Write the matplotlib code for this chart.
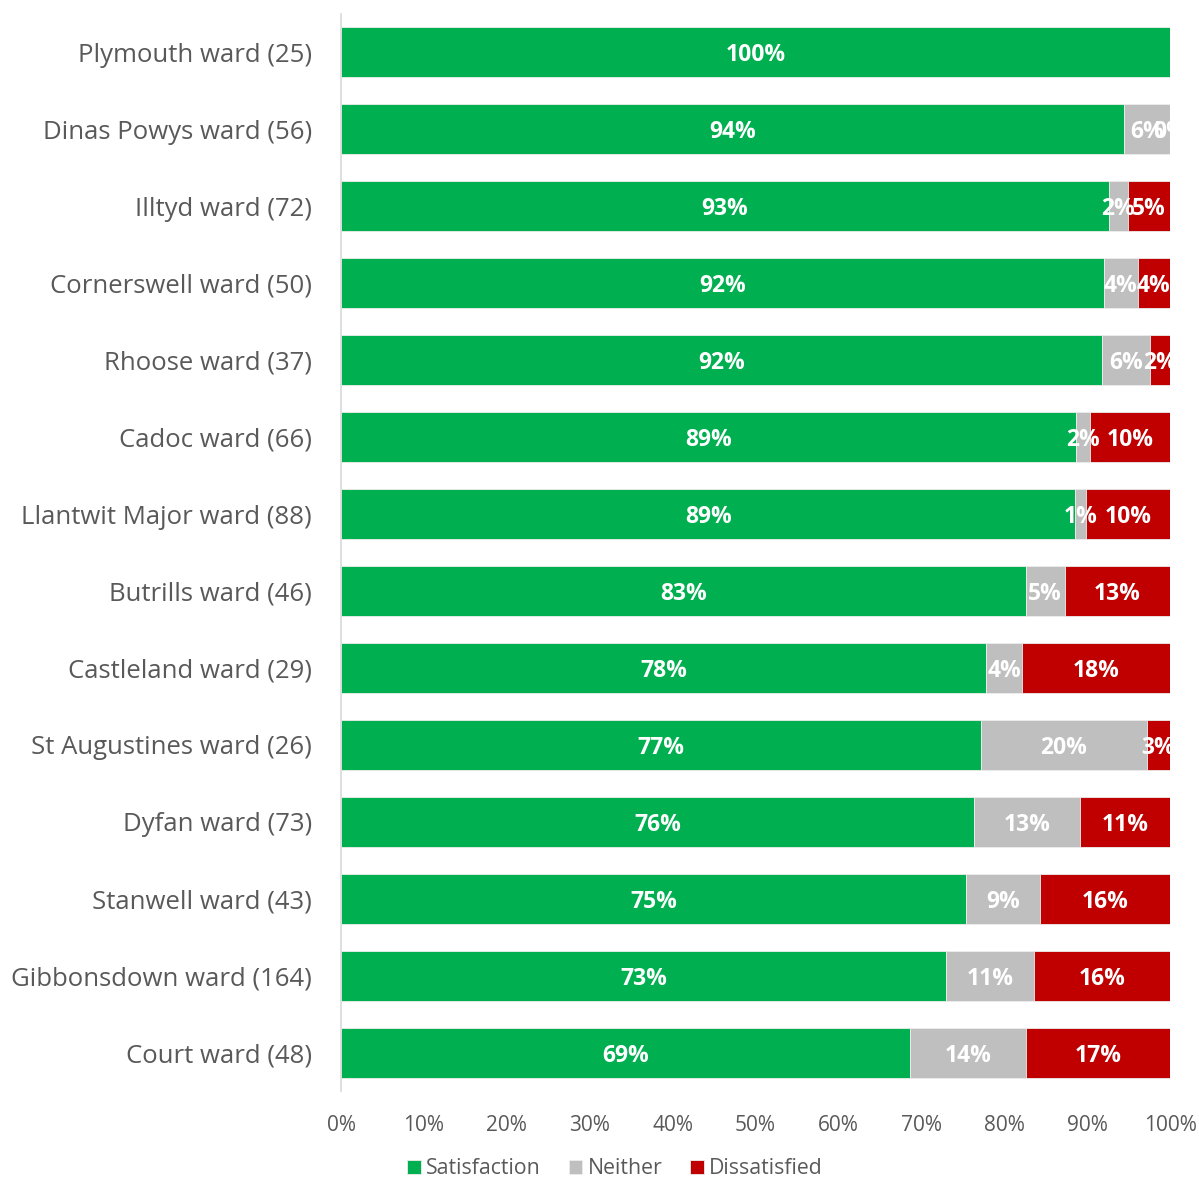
import matplotlib
matplotlib.use("Agg")
import matplotlib.pyplot as plt
import numpy as np

wards = [
    "Plymouth ward (25)", "Dinas Powys ward (56)", "Illtyd ward (72)",
    "Cornerswell ward (50)", "Rhoose ward (37)", "Cadoc ward (66)",
    "Llantwit Major ward (88)", "Butrills ward (46)", "Castleland ward (29)",
    "St Augustines ward (26)", "Dyfan ward (73)", "Stanwell ward (43)",
    "Gibbonsdown ward (164)", "Court ward (48)",
]
satisfaction = [100.0, 94.4, 92.6, 92.0, 91.8, 88.7, 88.6, 82.6, 77.8, 77.2, 76.4, 75.4, 73.0, 68.6]
neither = [0.0, 5.6, 2.3, 4.1, 5.8, 1.7, 1.3, 4.7, 4.4, 20.0, 12.7, 8.9, 10.6, 14.0]
dissatisfied = [0.0, 0.0, 5.1, 3.9, 2.4, 9.6, 10.1, 12.7, 17.8, 2.8, 10.9, 15.7, 16.4, 17.4]
# Plymouth shows only its satisfaction label
show_neither = [False] + [True] * 13
show_dissatisfied = [False] + [True] * 13

series = [
    ("Satisfaction", satisfaction, "#00B050", [True] * 14),
    ("Neither", neither, "#BFBFBF", show_neither),
    ("Dissatisfied", dissatisfied, "#C00000", show_dissatisfied),
]

plt.rcParams["font.family"] = ["Open Sans", "DejaVu Sans"]

fig = plt.figure(figsize=(11.99, 11.82), dpi=100)
ax = fig.add_axes([341 / 1199, 1 - 1091 / 1182, (1170 - 341) / 1199, (1091 - 14) / 1182])

y = np.arange(len(wards))
left = np.zeros(len(wards))
for name, vals, color, show in series:
    vals = np.array(vals)
    ax.barh(y, vals, left=left, height=0.65, color=color, edgecolor="#EDEDED",
            linewidth=0.6, label=name)
    for yi, (l, v, s) in enumerate(zip(left, vals, show)):
        if s:
            ax.text(l + v / 2, yi, f"{v:.0f}%", ha="center", va="center_baseline",
                    color="white", fontsize=16.5, fontweight="bold", clip_on=True)
    left += vals

ax.set_xlim(0, 100)
ax.set_ylim(len(wards) - 0.5, -0.5)
ax.set_yticks(y)
ax.set_yticklabels(wards, fontsize=18.5, color="#595959")
ax.set_xticks(np.arange(0, 101, 10))
ax.set_xticklabels([f"{t}%" for t in range(0, 101, 10)], fontsize=15, color="#595959")
ax.tick_params(axis="both", length=0)
ax.tick_params(axis="y", pad=21)
ax.tick_params(axis="x", pad=17)
for side in ["top", "right", "bottom"]:
    ax.spines[side].set_visible(False)
ax.spines["left"].set_color("#D9D9D9")
ax.spines["left"].set_linewidth(1.2)

leg = fig.legend(loc="center", bbox_to_anchor=(615 / 1199, 1 - 1169 / 1182), ncol=3,
                 frameon=False, fontsize=15.3, handlelength=0.65, handleheight=0.65,
                 handletextpad=0.25, columnspacing=1.3, borderpad=0.1)
for t in leg.get_texts():
    t.set_color("#595959")

fig.savefig("out.png", dpi=100)
